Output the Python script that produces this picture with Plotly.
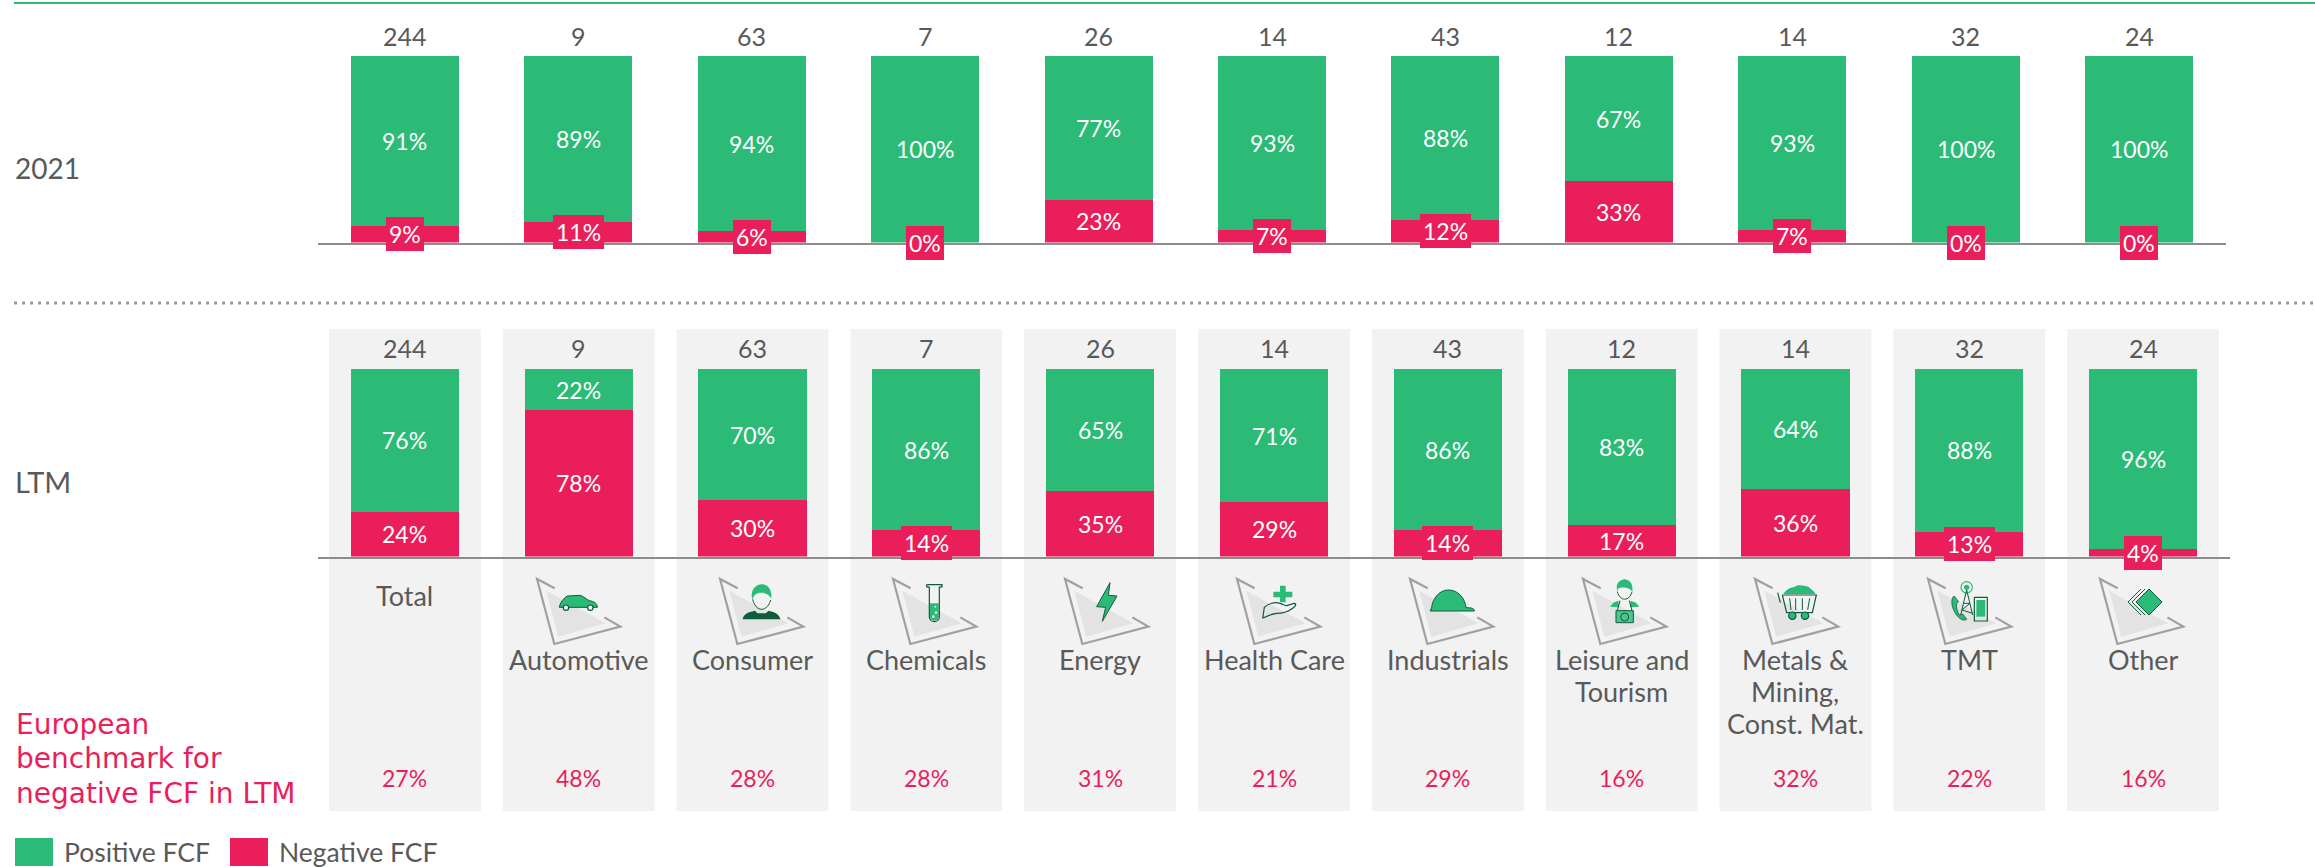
import plotly.graph_objects as go

W, H = 2315, 867
FONT = "Lato"
GREEN, PINK, GREY, PANEL = "#2BBB77", "#E91E5A", "#595959", "#F2F2F2"
DARK = "#0E5C3C"

counts = [244, 9, 63, 7, 26, 14, 43, 12, 14, 32, 24]
pos_2021 = [91, 89, 94, 100, 77, 93, 88, 67, 93, 100, 100]
neg_2021 = [9, 11, 6, 0, 23, 7, 12, 33, 7, 0, 0]
pos_ltm = [76, 22, 70, 86, 65, 71, 86, 83, 64, 88, 96]
neg_ltm = [24, 78, 30, 14, 35, 29, 14, 17, 36, 13, 4]
benchmark = [27, 48, 28, 28, 31, 21, 29, 16, 32, 22, 16]
sectors = ["Total", "Automotive", "Consumer", "Chemicals", "Energy", "Health Care", "Industrials",
           "Leisure and<br>Tourism", "Metals &<br>Mining,<br>Const. Mat.", "TMT", "Other"]
idx = list(range(len(counts)))


def px(x):
    return x / W


def py(y):
    return 1 - y / H


fig = go.Figure()
panels = [(pos_2021, neg_2021, "x", "y", 0.623), (pos_ltm, neg_ltm, "x2", "y2", 0.622)]
for pos, neg, xa, ya, bw in panels:
    fig.add_bar(x=idx, y=neg, marker_color=PINK, marker_line_width=0, width=bw, xaxis=xa, yaxis=ya,
                name="Negative FCF", showlegend=False)
    fig.add_bar(x=idx, y=pos, marker_color=GREEN, marker_line_width=0, width=bw, xaxis=xa, yaxis=ya,
                name="Positive FCF", showlegend=False)

shapes, notes = [], []


def line(x0, y0, x1, y1, color, width, dash="solid"):
    shapes.append(dict(type="line", xref="paper", yref="paper", x0=px(x0), x1=px(x1), y0=py(y0), y1=py(y1),
                       line=dict(color=color, width=width, dash=dash), layer="above"))


def path(points_cmd, fill=None, stroke=None, sw=1.0, ox=0.0, oy=0.0, layer="above"):
    """points_cmd: list of (cmd, x, y, ...) in 3x zoom units, placed at pixel origin ox, oy."""
    out = []
    for c in points_cmd:
        cmd, vals = c[0], c[1:]
        txt = []
        for k in range(0, len(vals), 2):
            txt.append(f"{px(ox + vals[k] / 3):.6f},{py(oy + vals[k + 1] / 3):.6f}")
        out.append(cmd + " ".join(txt))
    d = " ".join(out) + (" Z" if fill else "")
    shapes.append(dict(type="path", xref="paper", yref="paper", path=d, layer=layer,
                       fillcolor=fill or "rgba(0,0,0,0)",
                       line=dict(color=stroke or "rgba(0,0,0,0)", width=sw if stroke else 0)))


def circle(cx, cy, r, fill, stroke, sw, ox, oy):
    shapes.append(dict(type="circle", xref="paper", yref="paper", layer="above",
                       x0=px(ox + (cx - r) / 3), x1=px(ox + (cx + r) / 3),
                       y0=py(oy + (cy - r) / 3), y1=py(oy + (cy + r) / 3),
                       fillcolor=fill, line=dict(color=stroke or "rgba(0,0,0,0)", width=sw if stroke else 0)))


def poly(pts, **kw):
    path([("M", *pts[0])] + [("L", *p) for p in pts[1:]], **kw)


def triangle(ax, ay=579):
    ox, oy = ax - 20 / 3, ay - 27 / 3
    poly([(48, 62), (84, 200), (225, 160)], fill="#E3E3E3", ox=ox, oy=oy)
    poly([(73, 55), (20, 27), (72, 222), (270, 170), (222, 142)], stroke="#A0A0A0", sw=2.2, ox=ox, oy=oy)


# panel backgrounds, rules
for i in idx:
    shapes.append(dict(type="rect", xref="x2", yref="paper", x0=i - 76 / 174, x1=i + 76 / 174,
                       y0=py(811), y1=py(329), fillcolor=PANEL, line_width=0, layer="below"))
line(14, 3, W, 3, GREEN, 2)
line(14, 303, W, 303, "#9A9A9A", 3, "3px,5px")

# icons
apex = [537, 720, 893, 1065, 1237, 1410, 1583, 1755, 1928, 2100]
for a in apex:
    triangle(a)

# car
O = (530, 570)
path([("M", 88, 112), ("C", 90, 98, 100, 85, 112, 78), ("L", 150, 76), ("C", 160, 78, 172, 90, 178, 92),
      ("C", 192, 94, 202, 100, 202, 112)], fill=GREEN, stroke=DARK, sw=1, ox=O[0], oy=O[1])
for c in (108, 181):
    circle(c, 113, 8, "#FFFFFF", DARK, 1.2, *O)
# consumer
O = (700, 570)
path([("M", 158, 88), ("C", 162, 105, 172, 118, 185, 118), ("C", 198, 118, 208, 105, 212, 90)],
     stroke=DARK, sw=1, ox=O[0], oy=O[1])
path([("M", 155, 78), ("C", 155, 55, 170, 43, 185, 43), ("C", 205, 43, 216, 60, 214, 85),
      ("C", 205, 70, 190, 68, 183, 68), ("C", 170, 68, 160, 75, 158, 90)], fill=GREEN, ox=O[0], oy=O[1])
path([("M", 128, 148), ("C", 130, 130, 150, 125, 165, 122), ("L", 172, 130), ("L", 198, 130), ("L", 205, 122),
      ("C", 220, 125, 238, 130, 241, 148)], fill=DARK, ox=O[0], oy=O[1])
# chemicals
O = (880, 570)
path([("M", 150, 100), ("L", 176, 100), ("L", 176, 140), ("C", 176, 156, 150, 156, 150, 140)], fill=GREEN, ox=O[0], oy=O[1])
path([("M", 140, 44), ("L", 186, 44), ("L", 186, 50), ("L", 178, 52), ("L", 178, 140),
      ("C", 178, 160, 148, 160, 148, 140), ("L", 148, 52), ("L", 140, 50), ("L", 140, 44)],
     stroke=DARK, sw=1.2, ox=O[0], oy=O[1])
for b in ((166, 110, 3), (168, 128, 4), (160, 140, 4)):
    circle(*b, "#D9F2E6", None, 0, *O)
# energy
O = (1055, 570)
poly([(165, 38), (125, 110), (152, 112), (142, 154), (186, 78), (160, 76)], fill=GREEN, stroke=DARK, sw=1, ox=O[0], oy=O[1])
# health
O = (1230, 570)
poly([(150, 47), (167, 47), (167, 65), (187, 65), (187, 82), (167, 82), (167, 97), (150, 97), (150, 82), (130, 82),
      (130, 65), (150, 65)], fill=GREEN, ox=O[0], oy=O[1])
path([("M", 98, 145), ("L", 103, 112), ("C", 115, 100, 135, 95, 150, 100), ("C", 160, 103, 165, 108, 170, 107),
      ("L", 192, 100), ("C", 200, 100, 198, 108, 190, 113), ("C", 175, 125, 160, 130, 140, 130),
      ("C", 125, 132, 110, 138, 98, 145)], stroke=DARK, sw=1.2, ox=O[0], oy=O[1])
# industrials
O = (1405, 570)
path([("M", 76, 123), ("L", 208, 123), ("C", 208, 115, 200, 113, 183, 113), ("C", 180, 85, 160, 60, 130, 60),
      ("C", 100, 60, 82, 90, 80, 112)], fill=GREEN, stroke=DARK, sw=1, ox=O[0], oy=O[1])
# leisure
O = (1580, 570)
path([("M", 112, 65), ("C", 120, 95, 148, 95, 156, 65)], stroke=DARK, sw=1, ox=O[0], oy=O[1])
path([("M", 110, 50), ("C", 112, 35, 125, 28, 135, 28), ("C", 150, 30, 160, 42, 157, 65),
      ("C", 150, 52, 125, 50, 115, 55), ("L", 112, 65)], fill=GREEN, ox=O[0], oy=O[1])
poly([(90, 110), (100, 98), (115, 92), (117, 112)], fill=GREEN, ox=O[0], oy=O[1])
poly([(178, 110), (168, 98), (152, 92), (150, 112)], fill=GREEN, ox=O[0], oy=O[1])
poly([(120, 92), (112, 122)], stroke=DARK, sw=1, ox=O[0], oy=O[1])
poly([(148, 92), (156, 122)], stroke=DARK, sw=1, ox=O[0], oy=O[1])
poly([(108, 122), (160, 122), (160, 158), (108, 158), (108, 122)], fill="#4CC68D", stroke=DARK, sw=1, ox=O[0], oy=O[1])
circle(134, 141, 12, "#4CC68D", DARK, 1, *O)
# metals
O = (1755, 570)
path([("M", 85, 72), ("C", 95, 55, 110, 52, 120, 50), ("C", 130, 42, 150, 48, 160, 50), ("C", 170, 58, 178, 65, 182, 72)],
     fill=GREEN, ox=O[0], oy=O[1])
poly([(68, 68), (76, 98)], stroke=DARK, sw=1.2, ox=O[0], oy=O[1])
poly([(82, 75), (184, 75), (172, 128), (95, 128), (82, 75)], stroke=DARK, sw=1.2, ox=O[0], oy=O[1])
for v in (((104, 85), (108, 120)), ((122, 85), (122, 120)), ((142, 85), (142, 120)), ((164, 85), (158, 120))):
    poly(list(v), stroke=DARK, sw=1, ox=O[0], oy=O[1])
for c in (112, 150):
    circle(c, 137, 11, GREEN, DARK, 1.2, *O)
# TMT
O = (1930, 570)
circle(110, 52, 17, "rgba(0,0,0,0)", GREEN, 1.2, *O)
circle(110, 52, 8, GREEN, None, 0, *O)
poly([(110, 60), (92, 135)], stroke=DARK, sw=1, ox=O[0], oy=O[1])
poly([(110, 60), (128, 135)], stroke=DARK, sw=1, ox=O[0], oy=O[1])
poly([(101, 100), (120, 100), (96, 120), (128, 130)], stroke=DARK, sw=1, ox=O[0], oy=O[1])
path([("M", 72, 78), ("C", 62, 85, 64, 110, 75, 128), ("C", 85, 145, 100, 155, 110, 148), ("L", 98, 132),
      ("L", 88, 135), ("C", 82, 125, 78, 112, 80, 100), ("L", 86, 95)], fill=GREEN, stroke=DARK, sw=0.8, ox=O[0], oy=O[1])
poly([(133, 82), (172, 82), (172, 153), (133, 153), (133, 82)], stroke=DARK, sw=1.2, ox=O[0], oy=O[1])
poly([(139, 90), (166, 90), (166, 140), (139, 140)], fill=GREEN, ox=O[0], oy=O[1])
# other
O = (2095, 570)
for dx in (-24, -12):
    poly([(162 + dx, 57), (123 + dx, 96), (162 + dx, 135)], stroke=DARK, sw=1, ox=O[0], oy=O[1])
poly([(162, 57), (201, 96), (162, 135), (123, 96)], fill=GREEN, stroke=DARK, sw=1, ox=O[0], oy=O[1])


def note(text, x, y, size, color, xref="paper", yref="paper", xanchor="center", yanchor="middle", family=FONT, **kw):
    notes.append(dict(text=text, x=x, y=y, xref=xref, yref=yref, xanchor=xanchor, yanchor=yanchor, showarrow=False,
                      font=dict(family=family, size=size, color=color), **kw))


def bar_labels(pos, neg, xa, ya):
    for i in idx:
        note(f"{pos[i]}%", i, neg[i] + pos[i] / 2, 23, "#FFFFFF", xref=xa, yref=ya)
        boxed = neg[i] <= 14
        note(f"{neg[i]}%", i, neg[i] / 2, 23, "#FFFFFF", xref=xa, yref=ya,
             bgcolor=PINK if boxed else None, borderpad=3, borderwidth=0)


bar_labels(pos_2021, neg_2021, "x", "y")
bar_labels(pos_ltm, neg_ltm, "x2", "y2")
for i in idx:
    note(str(counts[i]), i, py(36), 25, GREY, xref="x")
    note(str(counts[i]), i, py(348), 25, GREY, xref="x2")
    note(f"{benchmark[i]}%", i, py(778), 23, PINK, xref="x2")
    if i == 0:
        note(sectors[i], i, py(595), 27, GREY, xref="x2")
    else:
        for k, part in enumerate(sectors[i].split("<br>")):
            note(part, i, py(659 + 32 * k), 27, GREY, xref="x2")

note("2021", px(13), py(168), 28, GREY, xanchor="left")
note("LTM", px(13), py(481), 29, GREY, xanchor="left")
for t, y in (("European", 724), ("benchmark for", 758), ("negative FCF in LTM", 793)):
    note(t, px(14), py(y), 28, PINK, xanchor="left", family="DejaVu Sans")

# key
for x0, x1, c in ((15, 53, GREEN), (230, 268, PINK)):
    shapes.append(dict(type="rect", xref="paper", yref="paper", x0=px(x0), x1=px(x1), y0=py(866), y1=py(838),
                       fillcolor=c, line_width=0))
note("Positive FCF", px(62), py(852), 26.5, GREY, xanchor="left")
note("Negative FCF", px(277), py(852), 26.5, GREY, xanchor="left")


def xax(x0, x1):
    return dict(domain=[px(x0), px(x1)], range=[-0.5, 10.5], showgrid=False, zeroline=False, showticklabels=False,
                ticks="", showline=True, linecolor="#8C8C8C", linewidth=2, fixedrange=True)


def yax(top, bottom, anchor):
    return dict(domain=[py(bottom), py(top)], range=[0, 100], visible=False, fixedrange=True, anchor=anchor)


fig.update_layout(
    width=W, height=H, margin=dict(l=0, r=0, t=0, b=0, pad=0), barmode="stack", plot_bgcolor="rgba(0,0,0,0)",
    paper_bgcolor="#FFFFFF", showlegend=False, shapes=shapes, annotations=notes, font=dict(family=FONT),
    xaxis=dict(**xax(318, 2226), anchor="y"),
    yaxis=yax(56, 242.6, "x"),
    xaxis2=dict(**xax(318, 2230), anchor="y2"),
    yaxis2=yax(369, 556.6, "x2"),
)
fig.write_html("out.html", config=dict(displayModeBar=False),
               post_script="document.body.style.margin='0';document.body.style.overflow='hidden';")
